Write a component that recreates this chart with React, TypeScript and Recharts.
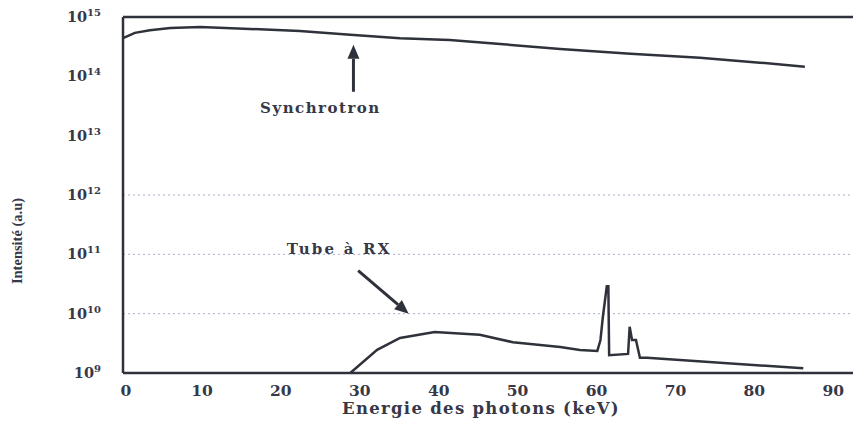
import { FC } from 'react';
import { LineChart, Line, XAxis, YAxis, ReferenceLine } from 'recharts';

// photon energy (keV) and intensity (a.u.) for the synchrotron beam
const synchrotronEnergy = [0, 1.5, 3.4, 6, 9.8, 16.1, 22.4, 28.8, 35.1, 41.4, 47.8, 55.4, 64.3, 73.1, 80.7, 86.4];
const synchrotronIntensity = [4.4e14, 5.4e14, 6.0e14, 6.5e14, 6.8e14, 6.3e14, 5.8e14, 5.0e14, 4.4e14, 4.1e14, 3.5e14, 2.9e14, 2.4e14, 2.05e14, 1.7e14, 1.45e14];

// X-ray tube spectrum: bremsstrahlung hump plus the K lines
const tubeEnergy = [28.8, 32.2, 35.1, 39.5, 45.2, 49.4, 55.4, 57.9, 60.1, 60.5, 60.8, 61.3, 61.5, 61.6, 64.0, 64.2, 64.5, 65.0, 65.5, 66.4, 86.2];
const tubeIntensity = [1.0e9, 2.45e9, 3.9e9, 4.9e9, 4.4e9, 3.3e9, 2.75e9, 2.45e9, 2.35e9, 3.6e9, 8.7e9, 2.9e10, 2.9e10, 2.0e9, 2.1e9, 6.0e9, 3.6e9, 3.6e9, 1.8e9, 1.8e9, 1.2e9];

const energyTicks = [0, 10, 20, 30, 40, 50, 60, 70, 80, 90];
const intensityTicks = [1e9, 1e10, 1e11, 1e12, 1e13, 1e14, 1e15];
const dottedLevels = [1e10, 1e11, 1e12];

const synchrotronData = synchrotronEnergy.map((e, i) => ({ e, v: synchrotronIntensity[i] }));
const tubeData = tubeEnergy.map((e, i) => ({ e, v: tubeIntensity[i] }));

const INK = '#2f323a';
const TEXT = '#363848';
const BOLD_SERIF = '"DejaVu Serif", serif';

const PowerTick = (props: any) => {
  const { x, y, payload } = props;
  const exp = Math.round(Math.log10(payload.value));
  return (
    <text x={x - 14} y={y} dy={5} textAnchor="end" fill={TEXT} fontFamily={BOLD_SERIF} fontWeight="bold" fontSize={14.5}>
      10
      <tspan fontSize={10} dy={-6}>{exp}</tspan>
    </text>
  );
};

const EnergyTick = (props: any) => {
  const { x, y, payload } = props;
  const dx = payload.value === 0 ? 3 : 0;
  return (
    <text x={x + dx} y={y} dy={15} textAnchor="middle" fill={TEXT} fontFamily={BOLD_SERIF} fontWeight="bold" fontSize={15.5}>
      {payload.value}
    </text>
  );
};

// arrow drawn from the segment's first point (tail) to its second point (head)
const makeArrow = (text: string, tx: number, ty: number, spacing: number) => (props: any) => {
  const { x1, y1, x2, y2 } = props;
  const ang = Math.atan2(y2 - y1, x2 - x1);
  const len = 14;
  const half = 6;
  const bx = x2 - len * Math.cos(ang);
  const by = y2 - len * Math.sin(ang);
  const px = -Math.sin(ang) * half;
  const py = Math.cos(ang) * half;
  return (
    <g>
      <line x1={x1} y1={y1} x2={bx} y2={by} stroke={INK} strokeWidth={3} />
      <polygon points={`${x2},${y2} ${bx + px},${by + py} ${bx - px},${by - py}`} fill={INK} />
      <text
        x={x1 + tx}
        y={y1 + ty}
        textAnchor="middle"
        fill={TEXT}
        fontFamily={BOLD_SERIF}
        fontWeight="bold"
        fontSize={15}
        letterSpacing={spacing}
      >
        {text}
      </text>
    </g>
  );
};

const App: FC = () => (
  <div style={{ position: 'fixed', left: 0, top: 0, background: '#fff' }}>
    <LineChart width={853} height={425} margin={{ top: 17, right: 0, bottom: 0, left: 0 }}>
      <XAxis
        type="number"
        dataKey="e"
        domain={[0, 92.5]}
        ticks={energyTicks}
        allowDataOverflow
        height={52}
        tickLine={false}
        tickSize={6}
        tickMargin={2}
        axisLine={{ stroke: INK, strokeWidth: 2.5 }}
        tick={<EnergyTick />}
        label={{
          content: (p: any) => (
            <text
              x={p.viewBox.x + 358}
              y={p.viewBox.y + 41}
              textAnchor="middle"
              fill={TEXT}
              fontFamily={BOLD_SERIF}
              fontWeight="bold"
              fontSize={16.5}
              letterSpacing={1.3}
            >
              Energie des photons (keV)
            </text>
          ),
        }}
      />
      <YAxis
        type="number"
        dataKey="v"
        scale="log"
        domain={[1e9, 1e15]}
        ticks={intensityTicks}
        allowDataOverflow
        width={123}
        tickLine={false}
        tickSize={6}
        tickMargin={2}
        axisLine={{ stroke: INK, strokeWidth: 2.5 }}
        tick={<PowerTick />}
        label={{
          content: () => (
            <text
              x={17}
              y={241}
              transform="rotate(-90 17 241)"
              dy={5}
              textAnchor="middle"
              fill={TEXT}
              fontFamily='"Liberation Serif", serif'
              fontWeight="bold"
              fontSize={14.5}
            >
              Intensité (a.u)
            </text>
          ),
        }}
      />
      {dottedLevels.map((lv) => (
        <ReferenceLine key={lv} y={lv} stroke="#a9aecb" strokeWidth={1} strokeDasharray="2 3" />
      ))}
      <ReferenceLine y={1e15} stroke={INK} strokeWidth={2.5} />
      <Line data={synchrotronData} dataKey="v" type="linear" stroke={INK} strokeWidth={2.5} dot={false} isAnimationActive={false} />
      <Line data={tubeData} dataKey="v" type="linear" stroke={INK} strokeWidth={2.5} dot={false} isAnimationActive={false} />
      <ReferenceLine
        segment={[{ x: 29.2, y: 5.5e13 }, { x: 29.2, y: 3.4e14 }]}
        shape={makeArrow('Synchrotron', -33, 21, 1.5)}
      />
      <ReferenceLine
        segment={[{ x: 29.8, y: 5.3e10 }, { x: 36.2, y: 1.0e10 }]}
        shape={makeArrow('Tube à RX', -19, -17, 2.2)}
      />
    </LineChart>
  </div>
);

export default App;
